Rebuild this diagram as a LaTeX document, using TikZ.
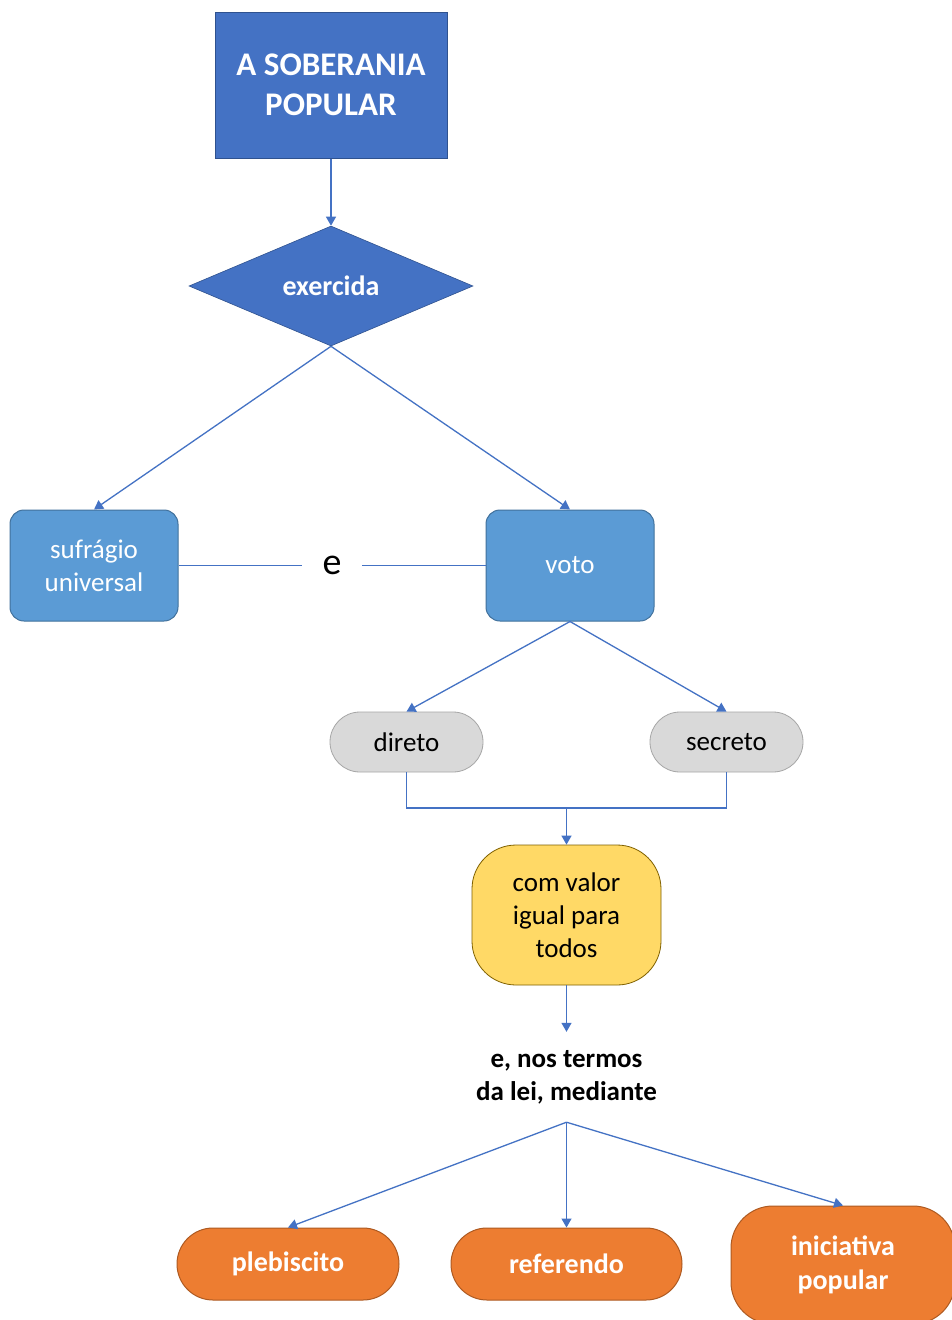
\documentclass[tikz,border=0pt]{standalone}
\usepackage{fontspec}
\setmainfont{Carlito}
\usetikzlibrary{shapes.geometric,arrows.meta}
\definecolor{dblue}{HTML}{4472C4}
\definecolor{dblueb}{HTML}{2F528F}
\definecolor{lblue}{HTML}{5B9BD5}
\definecolor{lblueb}{HTML}{41719C}
\definecolor{lgray}{HTML}{D9D9D9}
\definecolor{lgrayb}{HTML}{A6A6A6}
\definecolor{yell}{HTML}{FFD966}
\definecolor{yellb}{HTML}{7F6000}
\definecolor{orng}{HTML}{ED7D31}
\definecolor{orngb}{HTML}{AE5A21}
\definecolor{lnc}{HTML}{4472C4}
\begin{document}
\begin{tikzpicture}[x=1pt,y=-1pt,
  every node/.style={inner sep=0pt, align=center},
  topbox/.style={draw=dblueb, line width=1pt, fill=dblue, text=white, font=\fontsize{33}{40}\selectfont\bfseries, minimum width=232pt, minimum height=146pt},
  dia/.style={diamond, draw=dblueb, line width=0.6pt, fill=dblue, text=white, font=\fontsize{28}{33}\selectfont\bfseries, minimum width=284pt, minimum height=120pt, aspect=2.37},
  bluebox/.style={draw=lblueb, line width=1pt, fill=lblue, text=white, rounded corners=14pt, font=\fontsize{27}{33}\selectfont, minimum width=168pt, minimum height=111pt},
  graybox/.style={draw=lgrayb, line width=0.8pt, fill=lgray, text=black, rounded corners=30pt, font=\fontsize{27}{33}\selectfont, minimum width=153pt, minimum height=60pt},
  yelbox/.style={draw=yellb, line width=0.8pt, fill=yell, text=black, rounded corners=44pt, font=\fontsize{27}{33}\selectfont, minimum width=189pt, minimum height=140pt},
  orbox/.style={draw=orngb, line width=1pt, fill=orng, text=white, rounded corners=36pt, font=\fontsize{28}{34}\selectfont\bfseries, minimum height=72pt},
  conn/.style={draw=lnc, line width=1.3pt},
  arr/.style={conn, -{Triangle[width=10pt,length=9pt]}}
]
\clip (0,0) rectangle (952,1320);
\fill[white] (0,0) rectangle (952,1320);

\node[topbox] (sob) at (331,85) {A SOBERANIA\\POPULAR};
\node[dia] (ex) at (331,286) {exercida};
\node[bluebox] (suf) at (94,565.5) {sufrágio\\universal};
\node[bluebox] (voto) at (570,565.5) {voto};
\node[font=\fontsize{38}{40}\selectfont, minimum width=60pt] (e) at (332,565.5) {e};
\node[graybox] (dir) at (406.5,742) {direto};
\node[graybox] (sec) at (726.5,742) {secreto};
\node[yelbox] (yel) at (566.5,915) {com valor\\igual para\\todos};
\node[font=\fontsize{27}{33}\selectfont\bfseries, minimum height=90pt, minimum width=200pt] (txt) at (566.5,1077) {e, nos termos\\da lei, mediante};
\node[orbox, minimum width=222pt] (pleb) at (288,1264) {plebiscito};
\node[orbox, minimum width=231pt] (refe) at (566.5,1264) {referendo};
\node[orbox, minimum width=224pt, minimum height=118pt, rounded corners=42pt] (ini) at (843,1265) {iniciativa\\popular};

\draw[arr] (sob.south) -- (ex.north);
\draw[arr] (ex.south) -- (suf.north);
\draw[arr] (ex.south) -- (voto.north);
\draw[conn] (suf.east) -- (e.west);
\draw[conn] (e.east) -- (voto.west);
\draw[arr] (voto.south) -- (dir.north);
\draw[arr] (voto.south) -- (sec.north);
\coordinate (join) at (566.5,808);
\draw[conn] (dir.south) |- (join) -| (sec.south);
\draw[arr] (join) -- (yel.north);
\draw[arr] (yel.south) -- (txt.north);
\draw[arr] (txt.south) -- (pleb.north);
\draw[arr] (txt.south) -- (refe.north);
\draw[arr] (txt.south) -- (ini.north);
\end{tikzpicture}
\end{document}
